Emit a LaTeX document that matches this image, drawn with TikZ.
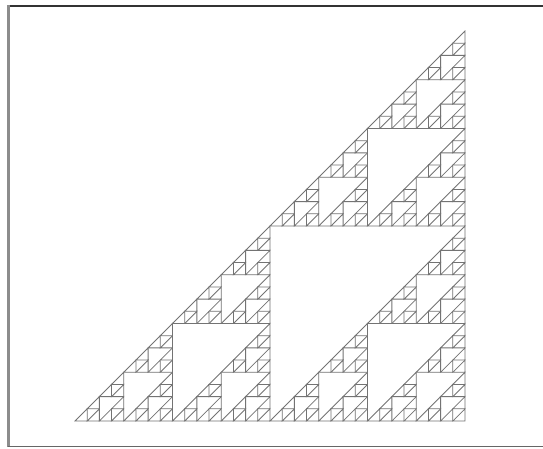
\documentclass[tikz,border=0pt]{standalone}
\begin{document}
\begin{tikzpicture}[x=1pt,y=1pt,
  tri/.style={draw=black!55,line width=0.8pt,line join=miter},
  frametop/.style={draw=black!80,line width=1.5pt},
  frameleft/.style={draw=black!45,line width=2.5pt},
  framebottom/.style={draw=black!60,line width=1.5pt}]
\useasboundingbox (0,0) rectangle (543,449);
\fill[white] (0,0) rectangle (543,449);
% window frame
\draw[frametop] (7.5,443) -- (543,443);
\draw[frameleft] (8.5,443.5) -- (8.5,2);
\draw[framebottom] (7.5,2.5) -- (543,2.5);
% Sierpinski right triangle, depth 5
\def\s{12.1875}
\foreach \pa/\qa in {0/0,16/0,0/16}
\foreach \pb/\qb in {0/0,8/0,0/8}
\foreach \pc/\qc in {0/0,4/0,0/4}
\foreach \pd/\qd in {0/0,2/0,0/2}
\foreach \pe/\qe in {0/0,1/0,0/1}
{
  \pgfmathsetmacro\X{465-(\pa+\pb+\pc+\pd+\pe)*\s}
  \pgfmathsetmacro\Y{28+(\qa+\qb+\qc+\qd+\qe)*\s}
  \draw[tri] (\X,\Y) -- ++(-\s,0) -- ++(\s,\s) -- cycle;
}
\end{tikzpicture}
\end{document}
